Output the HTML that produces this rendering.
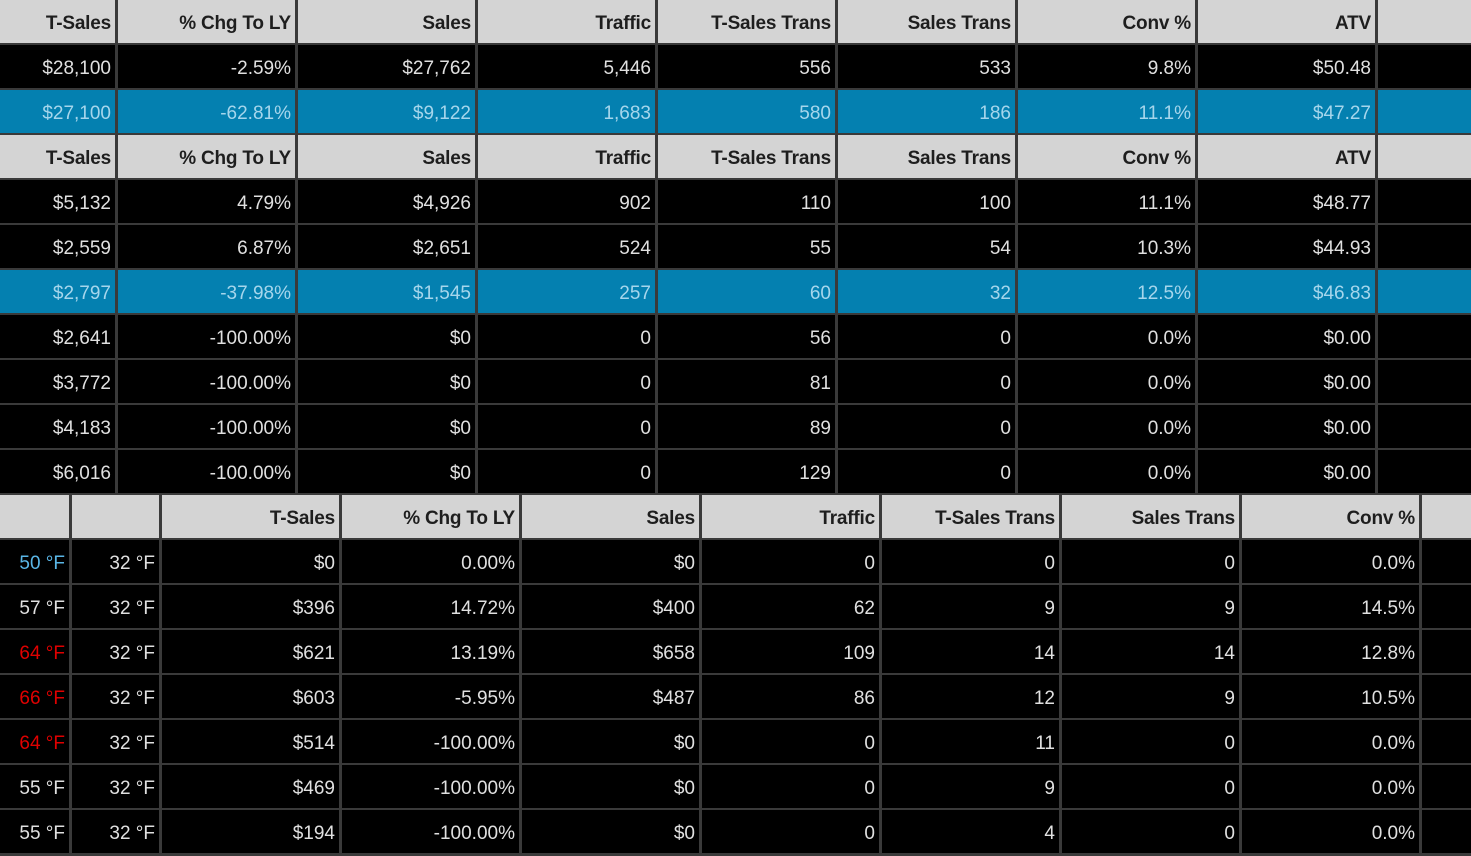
<!DOCTYPE html>
<html><head><meta charset="utf-8"><style>
body{margin:0;width:1471px;height:856px;background:#3a3a3a;overflow:hidden;font-family:"Liberation Sans",sans-serif;position:relative}
.c{position:absolute;box-sizing:border-box;text-align:right;padding-right:4px;padding-top:3px;font-size:19px;line-height:42px;color:#e0e0e0;background:#000;white-space:nowrap;overflow:hidden}
.h{background:#d4d4d4;color:#1e1e1e;font-weight:bold;letter-spacing:-0.2px}
.b{background:#0480b0;color:#a6d6ec}
</style></head><body>
<script>
const topCols=[117,297,477,657,837,1017,1197,1377,1471];
const botCols=[71,161,341,521,701,881,1061,1241,1421,1471];
const topHead=["T-Sales","% Chg To LY","Sales","Traffic","T-Sales Trans","Sales Trans","Conv %","ATV",""];
const botHead=["","","T-Sales","% Chg To LY","Sales","Traffic","T-Sales Trans","Sales Trans","Conv %",""];
const topRows=[
 {t:"h"},
 {t:"d",v:["$28,100","-2.59%","$27,762","5,446","556","533","9.8%","$50.48",""]},
 {t:"b",v:["$27,100","-62.81%","$9,122","1,683","580","186","11.1%","$47.27",""]},
 {t:"h"},
 {t:"d",v:["$5,132","4.79%","$4,926","902","110","100","11.1%","$48.77",""]},
 {t:"d",v:["$2,559","6.87%","$2,651","524","55","54","10.3%","$44.93",""]},
 {t:"b",v:["$2,797","-37.98%","$1,545","257","60","32","12.5%","$46.83",""]},
 {t:"d",v:["$2,641","-100.00%","$0","0","56","0","0.0%","$0.00",""]},
 {t:"d",v:["$3,772","-100.00%","$0","0","81","0","0.0%","$0.00",""]},
 {t:"d",v:["$4,183","-100.00%","$0","0","89","0","0.0%","$0.00",""]},
 {t:"d",v:["$6,016","-100.00%","$0","0","129","0","0.0%","$0.00",""]}
];
const botRows=[
 {t:"h"},
 {t:"d",c:"#5ab6e6",v:["50 °F","32 °F","$0","0.00%","$0","0","0","0","0.0%",""]},
 {t:"d",c:"",v:["57 °F","32 °F","$396","14.72%","$400","62","9","9","14.5%",""]},
 {t:"d",c:"#e00000",v:["64 °F","32 °F","$621","13.19%","$658","109","14","14","12.8%",""]},
 {t:"d",c:"#e00000",v:["66 °F","32 °F","$603","-5.95%","$487","86","12","9","10.5%",""]},
 {t:"d",c:"#e00000",v:["64 °F","32 °F","$514","-100.00%","$0","0","11","0","0.0%",""]},
 {t:"d",c:"",v:["55 °F","32 °F","$469","-100.00%","$0","0","9","0","0.0%",""]},
 {t:"d",c:"",v:["55 °F","32 °F","$194","-100.00%","$0","0","4","0","0.0%",""]}
];
function draw(rows,cols,head,y0,name){
 rows.forEach((r,ri)=>{
  const top=y0+ri*45;
  let left=0;
  cols.forEach((x,ci)=>{
   const el=document.createElement('div');
   el.className='c'+(r.t==='h'?' h':r.t==='b'?' b':'');
   el.style.left=(left)+'px';
   el.style.width=(x-left-(ci===cols.length-1?0:2))+'px';
   el.style.top=top+'px';
   el.style.height='43px';
   el.textContent=r.t==='h'?head[ci]:r.v[ci];
   if(ci===0&&r.c)el.style.color=r.c;
   
   
   document.body.appendChild(el);
   left=x+1;
  });
 });
}
draw(topRows,topCols,topHead,0,'summary');
draw(botRows,botCols,botHead,495,'weather');
</script>
</body></html>
